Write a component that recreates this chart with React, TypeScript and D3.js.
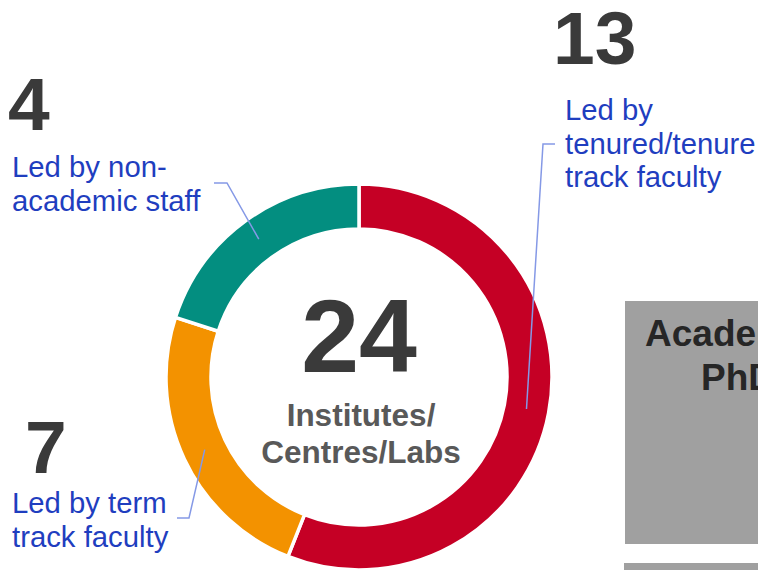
import React from "react";
import * as d3 from "d3";

const categories = [
  "Led by tenured/tenure track faculty",
  "Led by term track faculty",
  "Led by non-academic staff",
];
const counts = [13, 7, 4];
// share of the ring occupied by each slice (%)
const sliceShares = [56, 24, 20];
const colors = ["#C50025", "#F39200", "#038E80"];
const total = 24;
const centerLines = ["Institutes/", "Centres/Labs"];
const labelLines = [
  ["Led by", "tenured/tenure", "track faculty"],
  ["Led by term", "track faculty"],
  ["Led by non-", "academic staff"],
];
const boxLines = ["Academic", "PhD"];

const W = 758;
const H = 570;
const cx = 359;
const cy = 377;
const rOuter = 193;
const rInner = 148;
const FONT = "'Liberation Sans', Arial, Helvetica, sans-serif";
const BLUE = "#1F3EBF";
const LEADER = "#8599E6";
const DARK = "#3A3A3A";

// label layout: number position, text position, elbow points
const labelLayout = [
  { nx: 553, ny: 64, tx: 565, ty: 120, elbow: [[555, 144], [543, 144]] },
  { nx: 25, ny: 473, tx: 12, ty: 513, elbow: [[177, 518], [189, 518]] },
  { nx: 8, ny: 130, tx: 12, ty: 177, elbow: [[214, 183], [227, 183]] },
];

export default function App() {
  const pie = d3
    .pie<number>()
    .sort(null)
    .value((d) => d)
    .startAngle(0)
    .endAngle(2 * Math.PI);
  const arcs = pie(sliceShares);
  const arc = d3.arc<d3.PieArcDatum<number>>().innerRadius(rInner).outerRadius(rOuter);
  const line = d3.line();

  return (
    <svg
      width={W}
      height={H}
      style={{ position: "absolute", left: 0, top: 0, background: "#fff" }}
      fontFamily={FONT}
    >
      {/* gray boxes at right */}
      <rect x={625} y={301} width={W - 625} height={243} fill="#A0A0A0" />
      <rect x={624} y={563} width={W - 624} height={20} fill="#A0A0A0" />
      <text x={645} y={346} fontSize={37} fontWeight="bold" fill="#262626">
        {boxLines[0]}
      </text>
      <text x={701} y={390} fontSize={37} fontWeight="bold" fill="#262626">
        {boxLines[1]}
      </text>

      <g transform={`translate(${cx},${cy})`}>
        {arcs.map((a, i) => (
          <path
            key={categories[i]}
            d={arc(a) || ""}
            fill={colors[i]}
            stroke="#fff"
            strokeWidth={3.5}
          />
        ))}
        <text x={0} y={-5} textAnchor="middle" fontSize={104} fontWeight="bold" fill={DARK}>
          {total}
        </text>
        {centerLines.map((t, i) => (
          <text
            key={t}
            x={2}
            y={49 + i * 37}
            textAnchor="middle"
            fontSize={31.5}
            fontWeight="bold"
            fill="#595959"
          >
            {t}
          </text>
        ))}
      </g>

      {arcs.map((a, i) => {
        const c = arc.centroid(a);
        const L = labelLayout[i];
        const pts: [number, number][] = [
          L.elbow[0] as [number, number],
          L.elbow[1] as [number, number],
          [c[0] + cx, c[1] + cy],
        ];
        return (
          <g key={"lbl" + i}>
            <path d={line(pts) || ""} fill="none" stroke={LEADER} strokeWidth={1.5} />
            <text x={L.nx} y={L.ny} fontSize={75} fontWeight="bold" fill={DARK}>
              {counts[i]}
            </text>
            {labelLines[i].map((t, j) => (
              <text key={t + j} x={L.tx} y={L.ty + j * 33.5} fontSize={29.3} fill={BLUE}>
                {t}
              </text>
            ))}
          </g>
        );
      })}
    </svg>
  );
}
